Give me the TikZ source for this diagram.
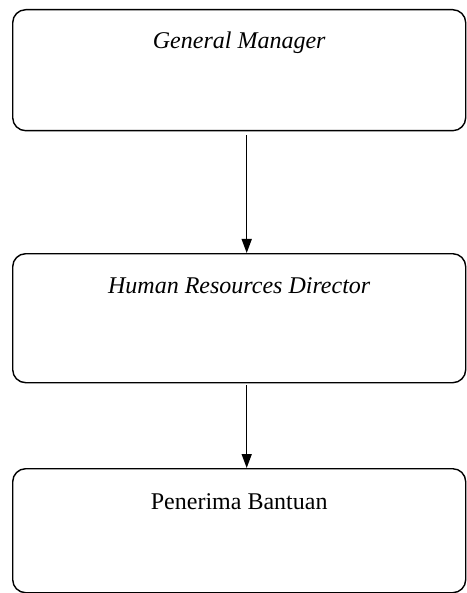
\documentclass[tikz,border=0pt]{standalone}
\usepackage{fontspec}
\setmainfont{Liberation Serif}
\usetikzlibrary{arrows.meta}

\begin{document}
\begin{tikzpicture}[x=1pt, y=1pt,
    box/.style={draw, line width=1.4pt, rounded corners=13pt, minimum width=453pt,
      inner sep=0pt, anchor=north west, font=\fontsize{24}{28}\selectfont},
    link/.style={line width=1.5pt, -{Triangle[length=14pt, width=10pt]}},
  ]
  \useasboundingbox (0,0) rectangle (466,-593);
  \node[box, text height=39pt, text depth=82pt] (gm) at (12,-9) {\itshape General Manager};
  \node[box, text height=40pt, text depth=89pt] (hrd) at (12,-253) {\itshape Human Resources Director};
  \node[box, text height=41pt, text depth=83pt] (pb) at (12,-468) {Penerima Bantuan};
  \draw[link] ([xshift=7.5pt, yshift=-4pt]gm.south) -- ([xshift=7.5pt]hrd.north);
  \draw[link] ([xshift=7.5pt, yshift=-2pt]hrd.south) -- ([xshift=7.5pt]pb.north);
\end{tikzpicture}
\end{document}
